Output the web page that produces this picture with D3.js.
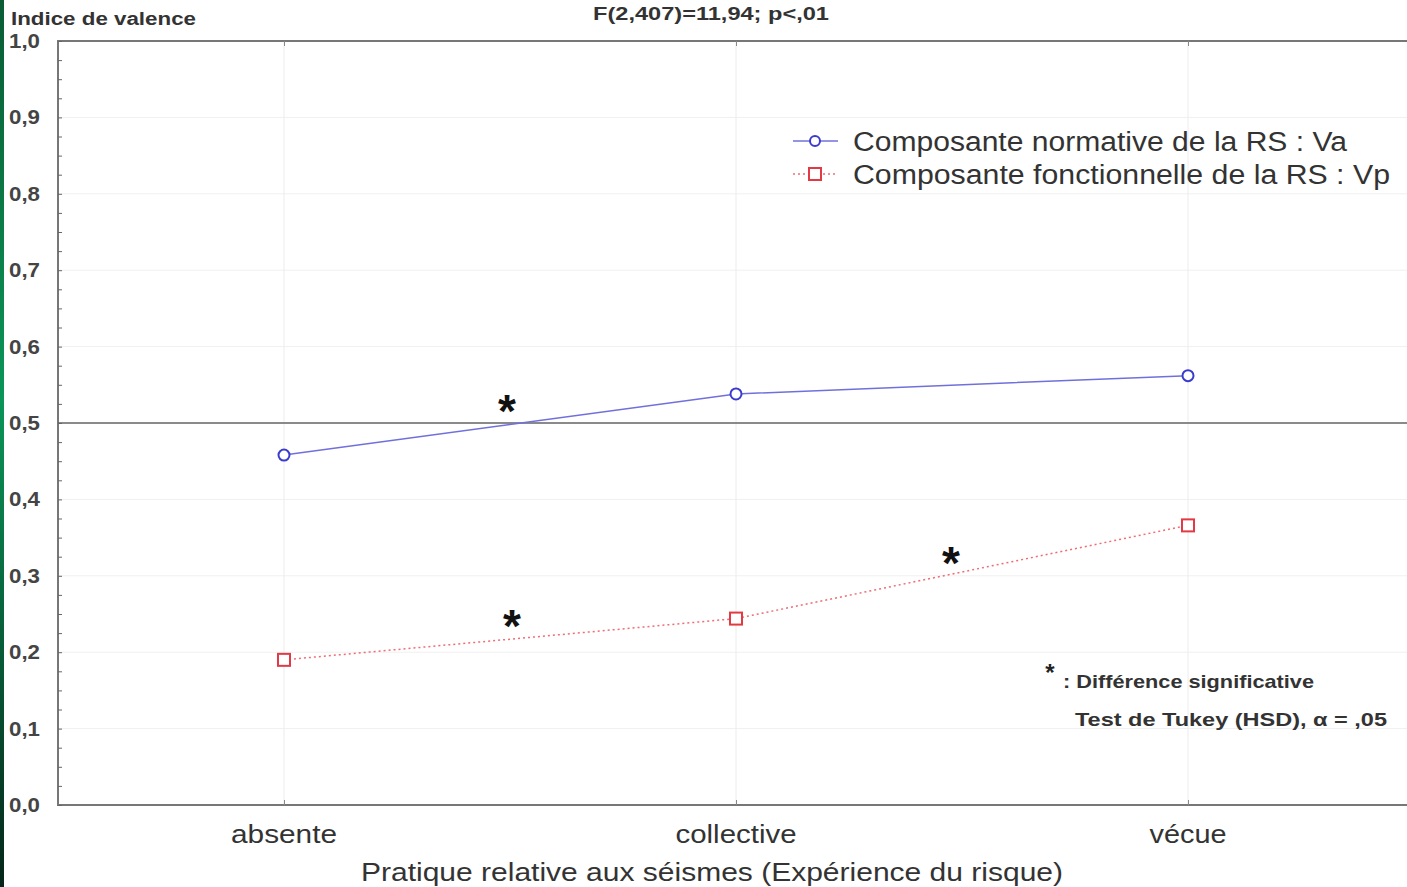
<!DOCTYPE html>
<html>
<head>
<meta charset="utf-8">
<script src="https://cdn.jsdelivr.net/npm/d3@7"></script>
<style>
  html, body { margin: 0; padding: 0; background: #fff; }
  svg { display: block; }
  text { font-family: "Liberation Sans", Arial, sans-serif; }
</style>
</head>
<body>
<div id="chart"></div>
<script>
// data
var categories = ['absente', 'collective', 'vécue'];
var normative = [0.458, 0.538, 0.562];    // Va
var fonctionnelle = [0.19, 0.244, 0.366]; // Vp
var yTicks = [0, 0.1, 0.2, 0.3, 0.4, 0.5, 0.6, 0.7, 0.8, 0.9, 1.0];
// stars: between which categories, and at what value
var stars = [
  { between: [0, 1], value: 0.532 },
  { between: [0, 1], value: 0.25 },
  { between: [1, 2], value: 0.332 }
];
var legendLabels = [
  'Composante normative de la RS : Va',
  'Composante fonctionnelle de la RS : Vp'
];

var width = 1407, height = 887;
var margin = { top: 41, left: 58, bottom: 82 };
var plotRight = 1414;

// the source picture is stretched sideways, so pin text widths
function stretch(sel, len) {
  sel.attr('textLength', len).attr('lengthAdjust', 'spacingAndGlyphs');
}

var svg = d3.select('#chart').append('svg')
  .attr('width', width)
  .attr('height', height);

// green strip on the left edge
var defs = svg.append('defs');
var grad = defs.append('linearGradient')
  .attr('id', 'strip')
  .attr('x1', 0).attr('y1', 0).attr('x2', 0).attr('y2', 1);
grad.append('stop').attr('offset', 0).attr('stop-color', '#0b5c34');
grad.append('stop').attr('offset', 0.45).attr('stop-color', '#0b9558');
grad.append('stop').attr('offset', 1).attr('stop-color', '#05261a');
svg.append('rect')
  .attr('x', 0).attr('y', 0)
  .attr('width', 4).attr('height', height)
  .attr('fill', 'url(#strip)');

var x = d3.scalePoint()
  .domain(categories)
  .range([margin.left, plotRight])
  .padding(0.5);

var y = d3.scaleLinear()
  .domain([0, 1])
  .range([height - margin.bottom, margin.top]);

var comma = function (d) { return d3.format('.1f')(d).replace('.', ','); };

// grid
svg.append('g').selectAll('line.h')
  .data(yTicks.slice(1, -1))
  .enter().append('line')
  .attr('x1', margin.left).attr('x2', plotRight)
  .attr('y1', function (d) { return y(d); })
  .attr('y2', function (d) { return y(d); })
  .attr('stroke', '#f0f0f0');
svg.append('g').selectAll('line.v')
  .data(categories)
  .enter().append('line')
  .attr('x1', function (d) { return x(d); })
  .attr('x2', function (d) { return x(d); })
  .attr('y1', y(1)).attr('y2', y(0))
  .attr('stroke', '#ececec');

// frame
svg.append('rect')
  .attr('x', margin.left).attr('y', y(1))
  .attr('width', plotRight - margin.left)
  .attr('height', y(0) - y(1))
  .attr('fill', 'none')
  .attr('stroke', '#777')
  .attr('stroke-width', 2);

// reference line at 0.5
svg.append('line')
  .attr('x1', margin.left).attr('x2', plotRight)
  .attr('y1', y(0.5)).attr('y2', y(0.5))
  .attr('stroke', '#666')
  .attr('stroke-width', 1.5);

// y axis: inward ticks, minor every 0.025
var yAxis = svg.append('g')
  .attr('transform', 'translate(' + margin.left + ',0)')
  .call(d3.axisRight(y).tickValues(d3.range(0, 1.0001, 0.025)).tickSize(4).tickFormat(''));
yAxis.select('.domain').remove();
yAxis.selectAll('line').attr('stroke', '#666');

svg.append('g').selectAll('text')
  .data(yTicks)
  .enter().append('text')
  .attr('x', 9)
  .attr('y', function (d) { return y(d) + 7; })
  .attr('font-size', 20)
  .attr('font-weight', 'bold')
  .attr('fill', '#444')
  .call(stretch, 31)
  .text(comma);

// x axis ticks (bottom and top)
var xBottom = svg.append('g')
  .attr('transform', 'translate(0,' + y(0) + ')')
  .call(d3.axisTop(x).tickSize(5).tickFormat(''));
xBottom.select('.domain').remove();
xBottom.selectAll('line').attr('stroke', '#888');
var xTop = svg.append('g')
  .attr('transform', 'translate(0,' + y(1) + ')')
  .call(d3.axisBottom(x).tickSize(5).tickFormat(''));
xTop.select('.domain').remove();
xTop.selectAll('line').attr('stroke', '#888');

var catWidths = [106, 121, 77];
svg.append('g').selectAll('text')
  .data(categories)
  .enter().append('text')
  .attr('x', function (d) { return x(d); })
  .attr('y', y(0) + 38)
  .attr('text-anchor', 'middle')
  .attr('font-size', 25)
  .attr('fill', '#333')
  .attr('textLength', function (d, i) { return catWidths[i]; })
  .attr('lengthAdjust', 'spacingAndGlyphs')
  .text(function (d) { return d; });

svg.append('text')
  .attr('x', 712).attr('y', 881)
  .attr('text-anchor', 'middle')
  .attr('font-size', 25)
  .attr('fill', '#333')
  .call(stretch, 702)
  .text('Pratique relative aux séismes (Expérience du risque)');

svg.append('text')
  .attr('x', 11).attr('y', 25)
  .attr('font-size', 18)
  .attr('font-weight', 'bold')
  .attr('fill', '#333')
  .call(stretch, 185)
  .text('Indice de valence');

svg.append('text')
  .attr('x', 711).attr('y', 20)
  .attr('text-anchor', 'middle')
  .attr('font-size', 18)
  .attr('font-weight', 'bold')
  .attr('fill', '#333')
  .call(stretch, 236)
  .text('F(2,407)=11,94; p<,01');

// series
var line = d3.line()
  .x(function (d, i) { return x(categories[i]); })
  .y(function (d) { return y(d); });

var blue = '#3b3bd0', red = '#e23a44';

svg.append('path')
  .datum(normative)
  .attr('d', line)
  .attr('fill', 'none')
  .attr('stroke', '#7070dd')
  .attr('stroke-width', 1.5);

svg.append('path')
  .datum(fonctionnelle)
  .attr('d', line)
  .attr('fill', 'none')
  .attr('stroke', '#ee6d75')
  .attr('stroke-width', 1.5)
  .attr('stroke-dasharray', '2,3');

svg.append('g').selectAll('circle')
  .data(normative)
  .enter().append('circle')
  .attr('cx', function (d, i) { return x(categories[i]); })
  .attr('cy', function (d) { return y(d); })
  .attr('r', 5.5)
  .attr('fill', '#fff')
  .attr('stroke', blue)
  .attr('stroke-width', 2);

svg.append('g').selectAll('rect')
  .data(fonctionnelle)
  .enter().append('rect')
  .attr('x', function (d, i) { return x(categories[i]) - 6; })
  .attr('y', function (d) { return y(d) - 6; })
  .attr('width', 12).attr('height', 12)
  .attr('fill', '#fff')
  .attr('stroke', red)
  .attr('stroke-width', 2);

// significance stars
svg.append('g').selectAll('text')
  .data(stars)
  .enter().append('text')
  .attr('x', function (d, i) {
    var a = x(categories[d.between[0]]), b = x(categories[d.between[1]]);
    return (a + b) / 2 + (i === 0 ? -3 : (i === 1 ? 2 : -11));
  })
  .attr('y', function (d) { return y(d.value) + 28; })
  .attr('text-anchor', 'middle')
  .attr('font-size', 46)
  .attr('font-weight', 'bold')
  .attr('fill', '#111')
  .text('*');

// legend
var legend = svg.append('g').attr('transform', 'translate(793,141)');
legend.append('line')
  .attr('x1', 0).attr('x2', 45).attr('y1', 0).attr('y2', 0)
  .attr('stroke', '#7070dd').attr('stroke-width', 1.5);
legend.append('circle')
  .attr('cx', 22).attr('cy', 0).attr('r', 5)
  .attr('fill', '#fff').attr('stroke', blue).attr('stroke-width', 2);
legend.append('line')
  .attr('x1', 0).attr('x2', 45).attr('y1', 33).attr('y2', 33)
  .attr('stroke', '#ee6d75').attr('stroke-width', 1.5)
  .attr('stroke-dasharray', '2,3');
legend.append('rect')
  .attr('x', 16).attr('y', 27).attr('width', 12).attr('height', 12)
  .attr('fill', '#fff').attr('stroke', red).attr('stroke-width', 2);
var legendWidths = [494, 537];
legend.selectAll('text')
  .data(legendLabels)
  .enter().append('text')
  .attr('x', 60)
  .attr('y', function (d, i) { return 10 + i * 33; })
  .attr('font-size', 27)
  .attr('fill', '#333')
  .attr('textLength', function (d, i) { return legendWidths[i]; })
  .attr('lengthAdjust', 'spacingAndGlyphs')
  .text(function (d) { return d; });

// note
svg.append('text')
  .attr('x', 1050).attr('y', 681)
  .attr('text-anchor', 'middle')
  .attr('font-size', 24)
  .attr('font-weight', 'bold')
  .attr('fill', '#222')
  .text('*');
svg.append('text')
  .attr('x', 1063).attr('y', 688)
  .attr('font-size', 19)
  .attr('font-weight', 'bold')
  .attr('fill', '#333')
  .call(stretch, 251)
  .text(': Différence significative');
svg.append('text')
  .attr('x', 1075).attr('y', 726)
  .attr('font-size', 19)
  .attr('font-weight', 'bold')
  .attr('fill', '#333')
  .call(stretch, 312)
  .text('Test de Tukey (HSD), α = ,05');
</script>
</body>
</html>
